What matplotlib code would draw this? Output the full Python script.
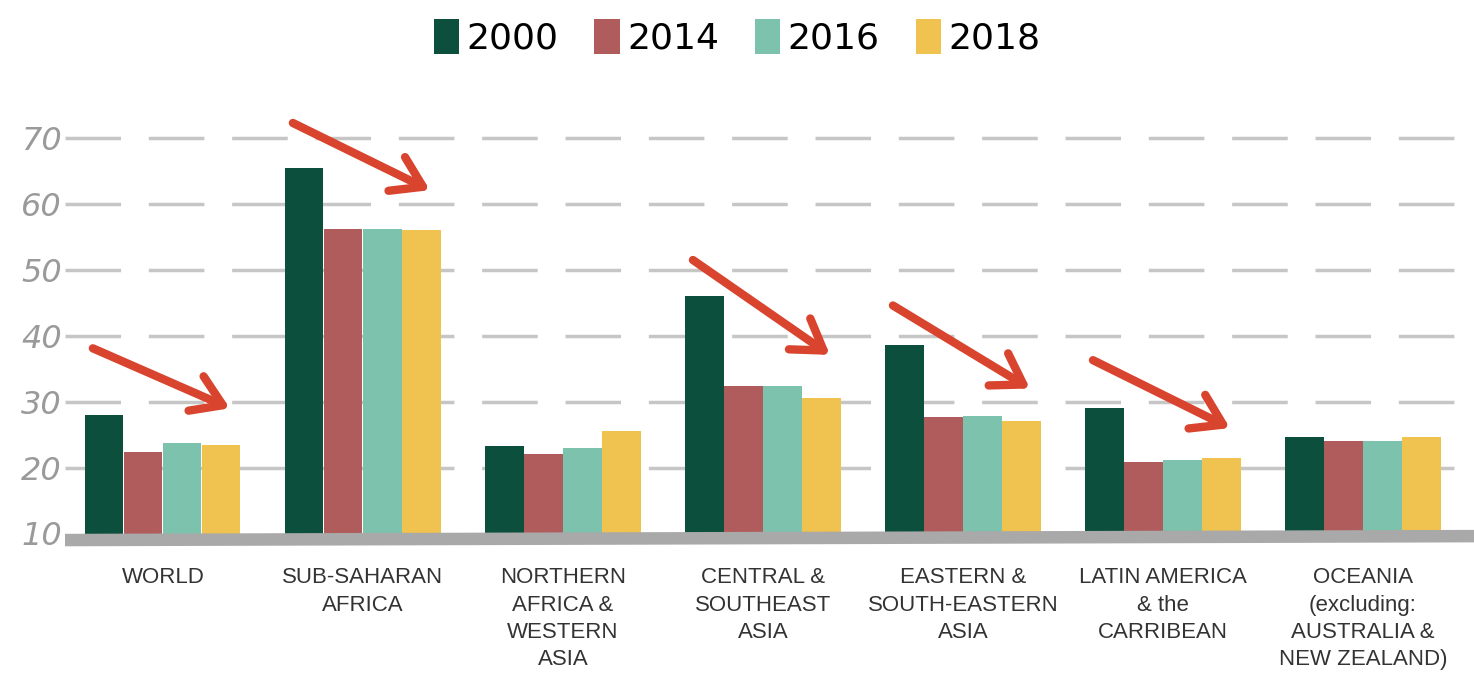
import numpy as np
import matplotlib.pyplot as plt
from matplotlib.patches import Patch

### data ######################################################################

regions = ['WORLD', 'SUB-SAHARAN\nAFRICA', 'NORTHERN\nAFRICA &\nWESTERN\nASIA',
           'CENTRAL &\nSOUTHEAST\nASIA', 'EASTERN &\nSOUTH-EASTERN\nASIA',
           'LATIN AMERICA\n& the\nCARRIBEAN',
           'OCEANIA\n(excluding:\nAUSTRALIA &\nNEW ZEALAND)']
years = ['2000', '2014', '2016', '2018']

v2000 = [28.0, 65.5, 23.2, 46.0, 38.6, 29.0, 24.6]
v2014 = [22.4, 56.2, 22.0, 32.4, 27.6, 20.8, 24.1]
v2016 = [23.8, 56.2, 23.0, 32.4, 27.9, 21.1, 24.1]
v2018 = [23.5, 56.0, 25.5, 30.6, 27.0, 21.4, 24.6]

yticks = [10, 20, 30, 40, 50, 60, 70]

# red "decline" arrows: group, start value, end value
arrow_groups = [0, 1, 3, 4, 5]
arrow_start = [38.1, 72.3, 51.5, 44.6, 36.3]
arrow_end = [29.0, 62.1, 37.1, 32.0, 26.0]

colors = ['#0c4f3c', '#b05c5c', '#7dc2ac', '#f0c24f']
grey = '#a9a9a9'

### plot ######################################################################

fig = plt.figure(figsize=(14.74, 6.83), dpi=100)
ax = fig.add_axes([0.044, 0.19, 0.956, 0.656])

x = np.arange(len(regions))
w = 0.195
base = 9.5
for i, vals in enumerate([v2000, v2014, v2016, v2018]):
    ax.bar(x + (i - 1.5) * w, np.array(vals) - base, w * 0.98, bottom=base,
           color=colors[i], zorder=2, label=years[i])

for t in yticks[1:]:
    ax.plot([-0.49, 6.6], [t, t], color='#c6c6c6', lw=2.5,
            linestyle=(0, (16, 8)), zorder=1)
ax.plot([-0.49, 6.6], [9.0, 9.6], color=grey, lw=9, zorder=3)

for g, y0, y1 in zip(arrow_groups, arrow_start, arrow_end):
    ax.annotate('', xy=(g + 0.335, y1), xytext=(g - 0.35, y0),
                arrowprops=dict(arrowstyle='->,head_length=0.7,head_width=0.45',
                                color='#d9442f', lw=6, mutation_scale=30,
                                shrinkA=0, shrinkB=0), zorder=4)

ax.set_xlim(-0.49, 6.555)
ax.set_ylim(7, 75)
ax.set_yticks(yticks)
ax.set_yticklabels([str(t) for t in yticks], fontsize=23, color='#9a9a9a',
                   style='italic')
ax.set_xticks(x)
ax.set_xticklabels(regions, fontsize=16, color='#333333', linespacing=1.4,
                   fontfamily='Liberation Sans')
ax.tick_params(axis='both', length=0)
ax.tick_params(axis='x', pad=10)
ax.tick_params(axis='y', pad=2)
for s in ax.spines.values():
    s.set_visible(False)

handles = [Patch(facecolor=c, edgecolor='none') for c in colors]
fig.legend(handles, years, loc='upper center', bbox_to_anchor=(0.5, 1.02),
           ncol=4, frameon=False, fontsize=26, handlelength=0.7,
           handleheight=1.1, handletextpad=0.2, columnspacing=1.0)

fig.savefig('out.png', dpi=100)
